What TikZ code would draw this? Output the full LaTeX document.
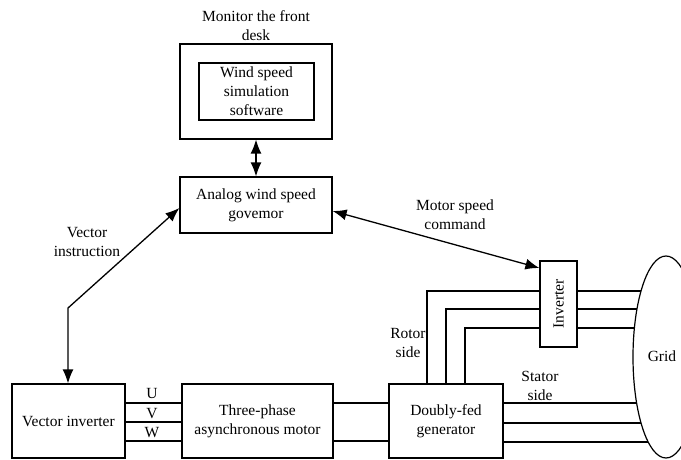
\documentclass[tikz,border=0pt]{standalone}
\usepackage{fontspec}
\setmainfont{Liberation Serif}
\usetikzlibrary{shapes.geometric,arrows.meta,backgrounds}
\begin{document}
\begin{tikzpicture}[x=1pt,y=-1pt,
  every node/.style={font=\fontsize{15.5}{19}\selectfont},
  box/.style={draw,line width=1.2pt,inner sep=0pt,align=center},
  wire/.style={line width=1.2pt},
  arr/.style={line width=1.3pt,{Latex[length=14pt,width=11pt]}-{Latex[length=14pt,width=11pt]}},
  lbl/.style={align=center,inner sep=0pt}]
\useasboundingbox (0,0) rectangle (681,460);
% nodes
\node[lbl] (title) at (256,26) {Monitor the front\\desk};
\node[box,minimum width=152pt,minimum height=95pt] (monitor) at (256,91.5) {};
\node[box,minimum width=115pt,minimum height=57pt] (soft) at (256.5,91.5) {Wind speed\\simulation\\software};
\node[box,minimum width=152pt,minimum height=56pt] (analog) at (256,205) {Analog wind speed\\govemor};
\node[box,minimum width=113pt,minimum height=74pt] (vinv) at (68.5,421) {Vector inverter};
\node[box,minimum width=151pt,minimum height=74pt] (motor) at (257.5,421) {Three-phase\\asynchronous motor};
\node[box,minimum width=114pt,minimum height=74pt] (dfg) at (446,421) {Doubly-fed\\generator};
\node[box,minimum width=37pt,minimum height=86pt,fill=white] (inv) at (558.5,304) {\rotatebox{90}{Inverter}};
\node[draw,ellipse,line width=1.2pt,fill=white,minimum width=66pt,minimum height=202pt,inner sep=0pt] (grid) at (666,357) {};
\node[lbl] (gridlbl) at (662,356) {Grid};
\node[lbl] (vilbl) at (87,242.5) {Vector\\instruction};
\node[lbl] (mslbl) at (455,214.5) {Motor speed\\command};
\node[lbl] (rotlbl) at (408,342.5) {Rotor\\side};
\node[lbl] (statlbl) at (540,385.5) {Stator\\side};
\node[lbl] (ulbl) at (152,393) {U};
\node[lbl] (vlbl) at (152,414) {V};
\node[lbl] (wlbl) at (152,433) {W};
\coordinate (corner) at (68,308);
% arrows
\draw[arr] (monitor.south) -- (analog.north);
\draw[arr] ([yshift=-3pt]analog.west) -- (corner) -- (vinv.north -| corner);
\draw[arr] ([yshift=-6pt]analog.east) -- ([yshift=36pt]inv.west);
% wires
\foreach \yy in {403,422,441}
  \draw[wire] (vinv.east |- 0,\yy) -- (motor.west |- 0,\yy);
\foreach \yy in {403,441}
  \draw[wire] (motor.east |- 0,\yy) -- (dfg.west |- 0,\yy);
\begin{scope}[on background layer]
\foreach \yy in {403,423,442}
  \draw[wire] (dfg.east |- 0,\yy) -- (grid.center |- 0,\yy);
\foreach \yy in {291,309,328}
  \draw[wire] (inv.east |- 0,\yy) -- (grid.center |- 0,\yy);
\end{scope}
\draw[wire] (427,0 |- dfg.north) |- (inv.west |- 0,291);
\draw[wire] (446,0 |- dfg.north) |- (inv.west |- 0,309);
\draw[wire] (465,0 |- dfg.north) |- (inv.west |- 0,328);
\end{tikzpicture}
\end{document}
